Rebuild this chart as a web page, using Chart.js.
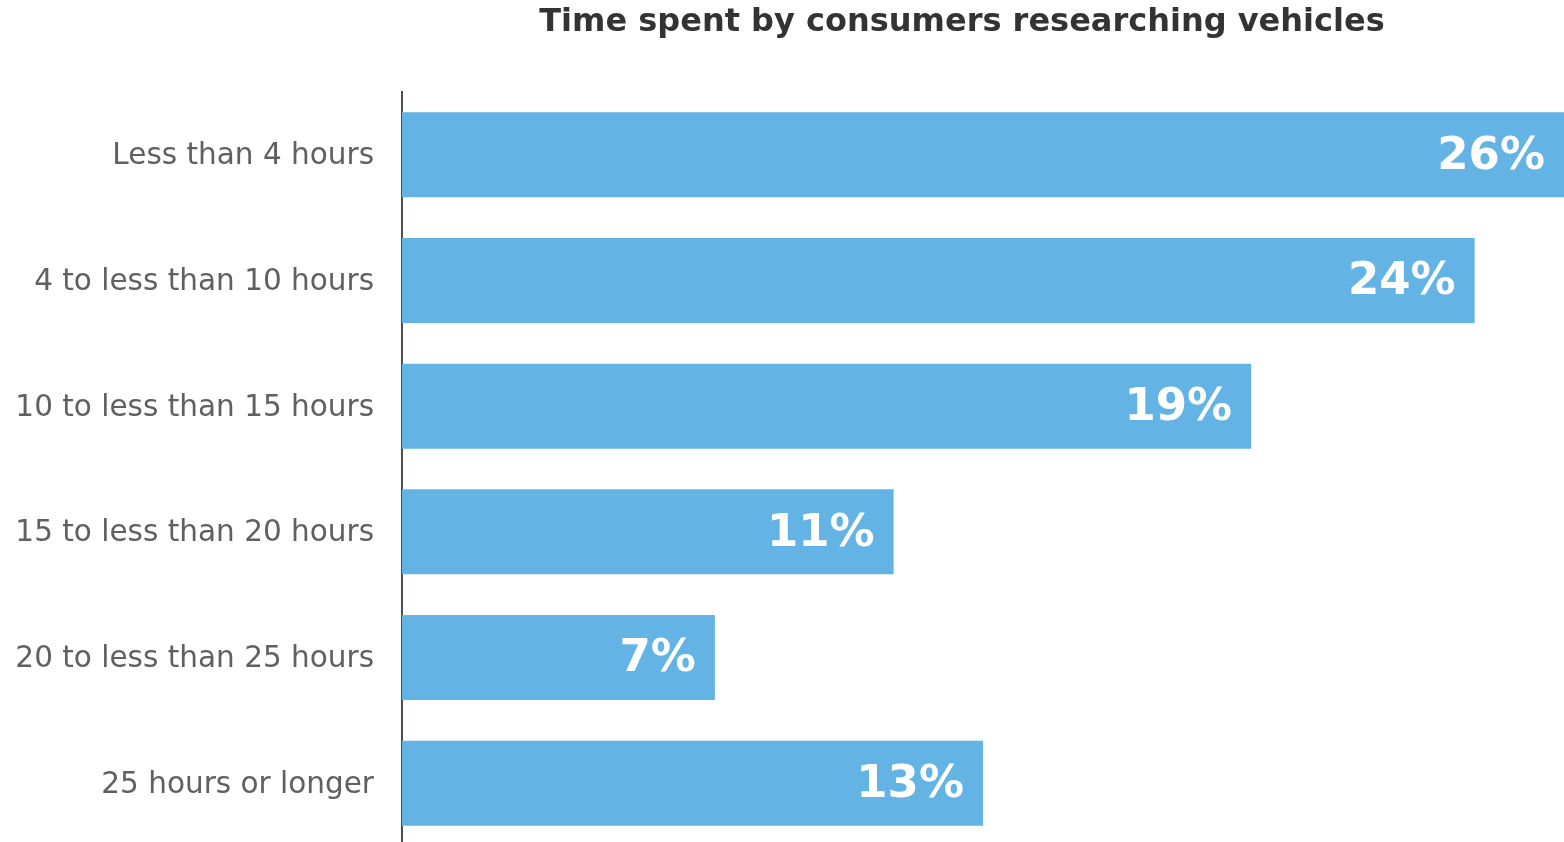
<!DOCTYPE html>
<html>
<head>
<meta charset="utf-8">
<script src="https://cdn.jsdelivr.net/npm/chart.js@4/dist/chart.umd.min.js"></script>
<style>
  html, body { margin: 0; padding: 0; background: #fff; overflow: hidden; }
  canvas { display: block; }
</style>
</head>
<body>
<canvas id="c" width="1564" height="846"></canvas>
<script>
// Survey buckets: hours spent researching before buying a vehicle
const categories = [
  'Less than 4 hours',
  '4 to less than 10 hours',
  '10 to less than 15 hours',
  '15 to less than 20 hours',
  '20 to less than 25 hours',
  '25 hours or longer'
];
const shares = [26, 24, 19, 11, 7, 13];
const chartTitle = 'Time spent by consumers researching vehicles';

const FONT = '"DejaVu Sans", Verdana, sans-serif';

// Title drawn above the bars, offset toward the plot area
const titlePlugin = {
  id: 'topTitle',
  afterDraw(chart) {
    const ctx = chart.ctx;
    ctx.save();
    ctx.font = 'bold 32px ' + FONT;
    ctx.fillStyle = '#333333';
    ctx.textAlign = 'center';
    ctx.textBaseline = 'middle';
    ctx.fillText(chartTitle, 962, 23);
    ctx.restore();
  }
};

// White percentage labels inside the end of each bar
const valueLabels = {
  id: 'valueLabels',
  afterDatasetsDraw(chart) {
    const ctx = chart.ctx;
    const meta = chart.getDatasetMeta(0);
    ctx.save();
    ctx.font = 'bold 45px ' + FONT;
    ctx.fillStyle = '#ffffff';
    ctx.textAlign = 'right';
    ctx.textBaseline = 'middle';
    meta.data.forEach((bar, i) => {
      ctx.fillText(shares[i] + '%', bar.x - 19, bar.y + 2);
    });
    ctx.restore();
  }
};

new Chart(document.getElementById('c'), {
  type: 'bar',
  data: {
    labels: categories,
    datasets: [{
      data: shares,
      backgroundColor: '#63b4e4',
      borderWidth: 0,
      barPercentage: 0.676,
      categoryPercentage: 1
    }]
  },
  options: {
    indexAxis: 'y',
    responsive: false,
    animation: false,
    layout: { padding: { top: 92, right: 0, bottom: 0, left: 0 } },
    plugins: {
      legend: { display: false },
      title: { display: false },
      tooltip: { enabled: false }
    },
    scales: {
      x: {
        display: false,
        min: 0,
        max: 26
      },
      y: {
        afterFit(scale) {
          scale.width = 402;
          scale.paddingTop = 0;
          scale.paddingBottom = 0;
        },
        grid: { display: false, drawTicks: false },
        border: { display: true, color: '#4a4f55', width: 2 },
        ticks: {
          padding: 28,
          labelOffset: 2,
          color: '#606060',
          font: { family: FONT, size: 29.5 }
        }
      }
    }
  },
  plugins: [titlePlugin, valueLabels]
});
</script>
</body>
</html>
